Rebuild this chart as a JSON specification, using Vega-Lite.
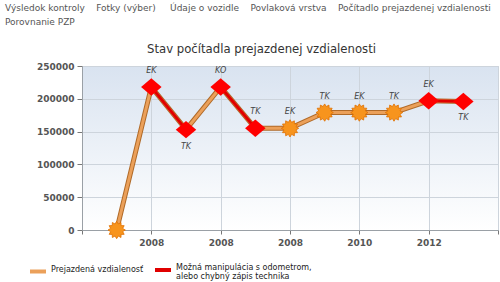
{
  "$schema": "https://vega.github.io/schema/vega-lite/v6.json",
  "width": 416,
  "height": 164,
  "autosize": "none",
  "padding": {"left": 82, "top": 66, "right": 2, "bottom": 52},
  "background": "white",
  "title": {
    "text": ["Výsledok kontroly\u00a0\u00a0\u00a0\u00a0Fotky (výber)\u00a0\u00a0\u00a0\u00a0\u00a0Údaje o vozidle\u00a0\u00a0\u00a0\u00a0Povlaková vrstva\u00a0\u00a0\u00a0\u00a0Počítadlo prejazdenej vzdialenosti", "Porovnanie PZP"],
    "anchor": "start",
    "frame": "group",
    "dx": -77,
    "offset": 16,
    "font": "DejaVu Sans",
    "fontSize": 9,
    "fontWeight": "normal",
    "color": "#555",
    "lineHeight": 14
  },
  "data": {
    "values": [
      {"n": 1, "km": 0, "label": "", "kind": "normal", "pos": "above", "seg": null},
      {"n": 2, "km": 218000, "label": "EK", "kind": "susp", "pos": "above", "seg": "a"},
      {"n": 3, "km": 153000, "label": "TK", "kind": "susp", "pos": "below", "seg": "a"},
      {"n": 4, "km": 218000, "label": "KO", "kind": "susp", "pos": "above", "seg": "b"},
      {"n": 5, "km": 155000, "label": "TK", "kind": "susp", "pos": "above", "seg": "b"},
      {"n": 6, "km": 155000, "label": "EK", "kind": "normal", "pos": "above", "seg": null},
      {"n": 7, "km": 179000, "label": "TK", "kind": "normal", "pos": "above", "seg": null},
      {"n": 8, "km": 179000, "label": "EK", "kind": "normal", "pos": "above", "seg": null},
      {"n": 9, "km": 179000, "label": "TK", "kind": "normal", "pos": "above", "seg": null},
      {"n": 10, "km": 197000, "label": "EK", "kind": "susp", "pos": "above", "seg": "c"},
      {"n": 11, "km": 196000, "label": "TK", "kind": "susp", "pos": "below", "seg": "c"}
    ]
  },
  "encoding": {
    "y": {
      "field": "km",
      "type": "quantitative",
      "scale": {"domain": [0, 250000], "nice": false},
      "axis": {
        "values": [0, 50000, 100000, 150000, 200000, 250000],
        "format": "d",
        "title": null,
        "grid": true,
        "gridColor": "#cdd4dc",
        "domainColor": "#9aa0a6",
        "tickColor": "#777",
        "tickSize": 5,
        "labelFont": "DejaVu Sans",
        "labelFontSize": 9,
        "labelFontWeight": "bold",
        "labelColor": "#555",
        "labelPadding": 3
      }
    }
  },
  "layer": [
    {
      "mark": {"type": "line", "stroke": "#b06a28", "strokeWidth": 5},
      "encoding": {
        "x": {
          "field": "n",
          "type": "quantitative",
          "scale": {"domain": [0, 12], "nice": false},
          "axis": {
            "values": [0, 2, 4, 6, 8, 10, 12],
            "labelExpr": "datum.value == 8 ? '2010' : datum.value == 10 ? '2012' : (datum.value == 0 || datum.value == 12) ? '' : '2008'",
            "title": null,
            "grid": true,
            "gridColor": "#cdd4dc",
            "domainColor": "#9aa0a6",
            "tickColor": "#777",
            "tickSize": 4,
            "labelFont": "DejaVu Sans",
            "labelFontSize": 9,
            "labelFontWeight": "bold",
            "labelColor": "#555",
            "labelPadding": 4
          }
        }
      }
    },
    {
      "mark": {"type": "line", "strokeWidth": 3},
      "encoding": {
        "x": {"field": "n", "type": "quantitative", "axis": {
          "orient": "top",
          "title": "Stav počítadla prejazdenej vzdialenosti",
          "titleFont": "DejaVu Sans",
          "titleFontSize": 11.7,
          "titleFontWeight": "normal",
          "titleColor": "#333",
          "titleX": 179,
          "titleAlign": "center",
          "titlePadding": 12,
          "labels": false,
          "ticks": false,
          "domain": false,
          "grid": false
        }},
        "color": {
          "datum": "Prejazdená vzdialenosť",
          "type": "nominal",
          "scale": {
            "domain": ["Prejazdená vzdialenosť", "Možná manipulácia s odometrom, alebo chybný zápis technika"],
            "range": ["#eba05a", "#e00000"]
          },
          "legend": {
            "title": null,
            "orient": "none",
            "legendX": -54,
            "legendY": 194,
            "direction": "horizontal",
            "columns": 2,
            "columnPadding": 3,
            "symbolType": "stroke",
            "symbolSize": 256,
            "symbolStrokeWidth": 4,
            "labelOffset": 3,
            "labelFont": "DejaVu Sans",
            "labelFontSize": 8,
            "labelColor": "#222",
            "labelBaseline": "alphabetic",
            "labelLimit": 300,
            "labelExpr": "datum.label == 'Prejazdená vzdialenosť' ? datum.label : ['Možná manipulácia s odometrom,', 'alebo chybný zápis technika']"
          }
        }
      }
    },
    {
      "transform": [{"filter": "datum.seg != null"}],
      "mark": {"type": "line", "strokeWidth": 3},
      "encoding": {
        "x": {"field": "n", "type": "quantitative", "axis": null},
        "detail": {"field": "seg"},
        "color": {"datum": "Možná manipulácia s odometrom, alebo chybný zápis technika", "type": "nominal"}
      }
    },
    {
      "transform": [{"filter": "datum.kind == 'normal'"}],
      "mark": {
        "type": "point",
        "shape": "M1,0L.6955,.1863L.866,.5L.509,.509L.5,.866L.1863,.6955L0,1L-.1863,.6955L-.5,.866L-.509,.509L-.866,.5L-.6955,.1863L-1,0L-.6955,-.1863L-.866,-.5L-.509,-.509L-.5,-.866L-.1863,-.6955L0,-1L.1863,-.6955L.5,-.866L.509,-.509L.866,-.5L.6955,-.1863Z",
        "filled": true,
        "fill": "#f7941d",
        "stroke": "#e07000",
        "strokeWidth": 0.8,
        "opacity": 1,
        "size": 300
      },
      "encoding": {"x": {"field": "n", "type": "quantitative", "axis": null}}
    },
    {
      "transform": [{"filter": "datum.kind == 'susp'"}],
      "mark": {
        "type": "point",
        "shape": "M-1,0L0,-.85L1,0L0,.85Z",
        "filled": true,
        "fill": "#ff0000",
        "strokeWidth": 0,
        "opacity": 1,
        "size": 420
      },
      "encoding": {"x": {"field": "n", "type": "quantitative", "axis": null}}
    },
    {
      "transform": [{"filter": "datum.pos == 'above' && datum.label != ''"}],
      "mark": {"type": "text", "dy": -16, "font": "DejaVu Sans", "fontSize": 8, "fontStyle": "italic", "fill": "#444"},
      "encoding": {
        "x": {"field": "n", "type": "quantitative", "axis": null},
        "text": {"field": "label"}
      }
    },
    {
      "transform": [{"filter": "datum.pos == 'below'"}],
      "mark": {"type": "text", "dy": 17, "font": "DejaVu Sans", "fontSize": 8, "fontStyle": "italic", "fill": "#444"},
      "encoding": {
        "x": {"field": "n", "type": "quantitative", "axis": null},
        "text": {"field": "label"}
      }
    }
  ],
  "resolve": {"axis": {"x": "independent"}},
  "config": {
    "style": {"guide-label": {"lineHeight": 9}},
    "view": {
      "stroke": "#c4cbd3",
      "fill": {
        "gradient": "linear",
        "x1": 0, "y1": 0, "x2": 0, "y2": 1,
        "stops": [{"offset": 0, "color": "#d9e3f0"}, {"offset": 1, "color": "#ffffff"}]
      }
    }
  }
}
